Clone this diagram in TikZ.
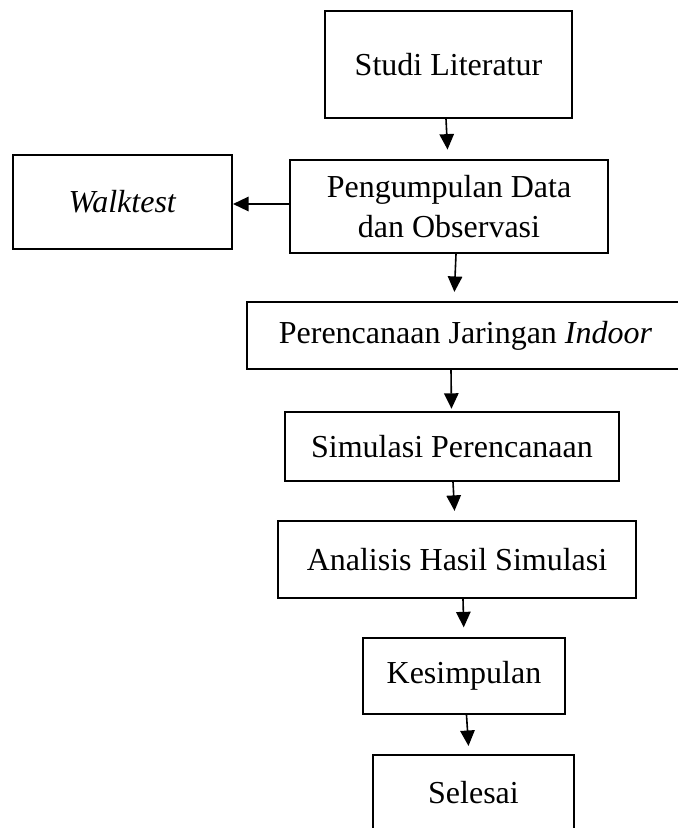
\documentclass[tikz,border=0pt]{standalone}
\usepackage{fontspec}
\setmainfont{Liberation Serif}
\usetikzlibrary{arrows.meta, calc}

\begin{document}
\begin{tikzpicture}[
  x=0.375pt, y=-0.375pt,
  blok/.style={rectangle, draw, line width=0.8pt, inner sep=2pt, align=center, font=\fontsize{12pt}{15pt}\selectfont},
  arr/.style={-{Triangle[length=5.8pt, width=5.4pt]}, line width=0.6pt},
  >=Stealth
]
  \useasboundingbox (0,0) rectangle (678,828);

  % Boxes
  \node[blok, minimum width=92.6pt, minimum height=40.1pt] (studi) at (448.5,64.5) {Studi Literatur};
  \node[blok, minimum width=119.25pt, minimum height=34.9pt] (data) at (449,206.5) {Pengumpulan Data\\dan Observasi};
  \node[blok, minimum width=82.1pt, minimum height=35.25pt] (walk) at (122.5,202) {\textit{Walktest}};
  \node[blok, minimum width=164pt, minimum height=25.1pt] (renc) at (465.5,335.5) {Perencanaan Jaringan \textit{Indoor}};
  \node[blok, minimum width=125.25pt, minimum height=25.9pt] (sim) at (452,446.5) {Simulasi Perencanaan};
  \node[blok, minimum width=134.25pt, minimum height=28.9pt] (anal) at (457,559.5) {Analisis Hasil Simulasi};
  \node[blok, minimum width=75.75pt, minimum height=28.5pt] (kes) at (464,676) {Kesimpulan};
  \node[blok, minimum width=75.4pt, minimum height=28.5pt] (sel) at (473.5,793) {Selesai};

  % Arrows
  \draw[arr, shorten >=3.5pt] ($(studi.south)+(-2.5,0)$) -- ($(data.north)+(-1,0)$);
  \draw[arr] ($(data.west)+(0,-2.5)$) -- ($(walk.east)+(0,2)$);
  \draw[arr, shorten >=3.4pt] ($(data.south)+(7,0)$) -- ($(renc.north)+(-11.5,0)$);
  \draw[arr, shorten >=0.8pt] ($(renc.south)+(-14.5,0)$) -- ($(sim.north)+(-0.5,0)$);
  \draw[arr, shorten >=3.4pt] ($(sim.south)+(1,0)$) -- ($(anal.north)+(-2,0)$);
  \draw[arr, shorten >=3.6pt] ($(anal.south)+(6,0)$) -- ($(kes.north)+(0,0)$);
  \draw[arr, shorten >=3pt] ($(kes.south)+(2.5,0)$) -- ($(sel.north)+(-4.5,0)$);
\end{tikzpicture}
\end{document}
